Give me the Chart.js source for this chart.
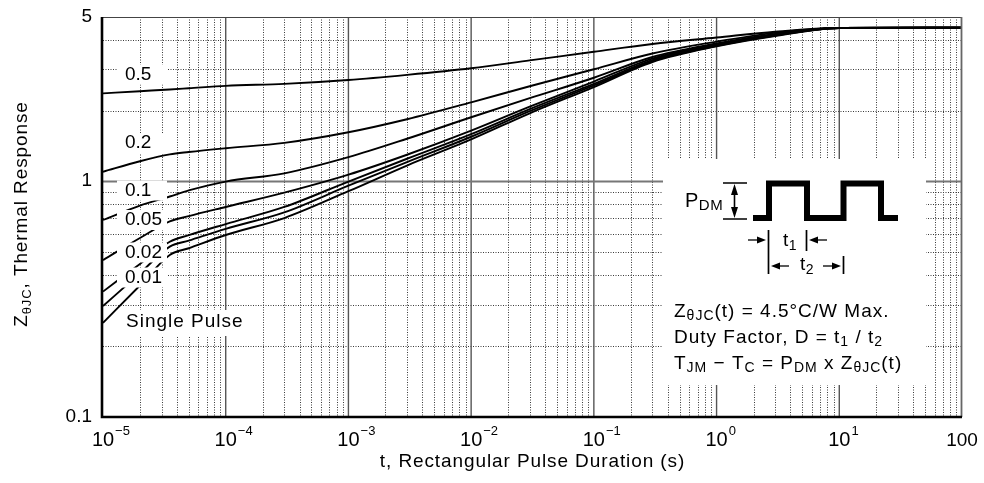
<!DOCTYPE html>
<html>
<head>
<meta charset="utf-8">
<script src="https://cdn.jsdelivr.net/npm/chart.js@4.4.1/dist/chart.umd.min.js"></script>
<style>
  html, body { margin: 0; padding: 0; background: #fff; }
  canvas { display: block; }
</style>
</head>
<body>
<canvas id="thermalChart" width="984" height="483"></canvas>
<script>
const pulseTimes = [1e-5, 2e-5, 3.5e-5, 5e-5, 1e-4, 3e-4, 1e-3, 3e-3, 1e-2, 3e-2, 1e-1, 3e-1, 1, 3, 10, 100];

// Z(t) thermal response per duty factor
const duty050 = [2.37, 2.42, 2.46, 2.49, 2.55, 2.60, 2.70, 2.84, 3.03, 3.27, 3.56, 3.84, 4.09, 4.33, 4.49, 4.50];
const duty020 = [1.10, 1.22, 1.305, 1.335, 1.385, 1.46, 1.62, 1.84, 2.17, 2.54, 3.00, 3.50, 3.93, 4.28, 4.49, 4.50];
const duty010 = [0.687, 0.791, 0.864, 0.917, 1.00, 1.084, 1.27, 1.52, 1.876, 2.26, 2.76, 3.38, 3.86, 4.24, 4.49, 4.50];
const duty005 = [0.464, 0.576, 0.677, 0.713, 0.78, 0.897, 1.07, 1.30, 1.645, 2.08, 2.66, 3.33, 3.83, 4.21, 4.49, 4.50];
const duty002 = [0.341, 0.447, 0.555, 0.592, 0.66, 0.78, 1.00, 1.25, 1.59, 2.03, 2.60, 3.28, 3.80, 4.19, 4.49, 4.50];
const duty001 = [0.296, 0.408, 0.529, 0.561, 0.63, 0.74, 0.96, 1.21, 1.55, 1.99, 2.56, 3.25, 3.77, 4.17, 4.49, 4.50];
const singlePulse = [0.251, 0.362, 0.488, 0.521, 0.593, 0.70, 0.91, 1.17, 1.51, 1.95, 2.52, 3.22, 3.75, 4.15, 4.49, 4.50];

const curveNames = ["0.5", "0.2", "0.1", "0.05", "0.02", "0.01", "Single Pulse"];
const curveValues = [duty050, duty020, duty010, duty005, duty002, duty001, singlePulse];

// axis ticks
const xDecades = [1e-5, 1e-4, 1e-3, 1e-2, 1e-1, 1, 10];
const xDecadeExp = ["\u22125", "\u22124", "\u22123", "\u22122", "\u22121", "0", "1"];
const xLastTick = 100;
const xLastLabel = "100";
const yTicks = [0.1, 1, 5];
const yTickLabels = ["0.1", "1", "5"];
const yMinorGrid = [0.2, 0.3, 0.4, 0.5, 0.6, 0.7, 0.8, 0.9, 2, 3, 4];

const FONT = '"Liberation Sans", Arial, Helvetica, sans-serif';
const INK = "#000";

function setFont(ctx, size) {
  ctx.font = size + "px " + FONT;
}

// draws pieces like [text, size, dy] one after another (for sub/superscripts)
function drawPieces(ctx, pieces, x, y, align, spacing) {
  ctx.letterSpacing = (spacing || 0) + "px";
  ctx.textAlign = "left";
  let total = 0;
  pieces.forEach(p => { setFont(ctx, p[1]); total += ctx.measureText(p[0]).width; });
  let cx = align === "center" ? x - total / 2 : x;
  pieces.forEach(p => {
    setFont(ctx, p[1]);
    ctx.fillText(p[0], cx, y + (p[2] || 0));
    cx += ctx.measureText(p[0]).width;
  });
  ctx.letterSpacing = "0px";
  return total;
}

function hArrow(ctx, tipX, y, dir) {
  const head = 9, half = 3.5, tail = 9;
  ctx.beginPath();
  ctx.moveTo(tipX, y);
  ctx.lineTo(tipX - dir * head, y - half);
  ctx.lineTo(tipX - dir * head, y + half);
  ctx.closePath();
  ctx.fill();
  ctx.beginPath();
  ctx.moveTo(tipX - dir * head, y);
  ctx.lineTo(tipX - dir * (head + tail), y);
  ctx.stroke();
}

const gridPlugin = {
  id: "gridPlugin",
  beforeDatasetsDraw(chart) {
    const { ctx, chartArea: a, scales: { x, y } } = chart;
    ctx.save();
    // dotted minor grid
    ctx.setLineDash([1, 1.5]);
    ctx.strokeStyle = "#3a3a3a";
    ctx.lineWidth = 1;
    xDecades.forEach(d => {
      for (let k = 2; k <= 9; k++) {
        const px = Math.round(x.getPixelForValue(d * k)) + 0.5;
        ctx.beginPath(); ctx.moveTo(px, a.top); ctx.lineTo(px, a.bottom); ctx.stroke();
      }
    });
    yMinorGrid.forEach(v => {
      const py = Math.round(y.getPixelForValue(v)) + 0.5;
      ctx.beginPath(); ctx.moveTo(a.left, py); ctx.lineTo(a.right, py); ctx.stroke();
    });
    ctx.setLineDash([]);
    // solid decade lines
    ctx.strokeStyle = "#555";
    ctx.lineWidth = 1.4;
    xDecades.slice(1).forEach(d => {
      const px = x.getPixelForValue(d);
      ctx.beginPath(); ctx.moveTo(px, a.top); ctx.lineTo(px, a.bottom); ctx.stroke();
    });
    ctx.strokeStyle = "#777";
    ctx.lineWidth = 2;
    const p1 = y.getPixelForValue(1);
    ctx.beginPath(); ctx.moveTo(a.left, p1); ctx.lineTo(a.right, p1); ctx.stroke();
    // blank panel for the inset notes
    ctx.fillStyle = "#fff";
    ctx.fillRect(663, 159, 263, 226);
    ctx.restore();
  },
  afterDatasetsDraw(chart) {
    const { ctx, chartArea: a, scales: { x, y } } = chart;
    ctx.save();
    ctx.fillStyle = INK;
    ctx.strokeStyle = INK;

    // curve labels on white patches
    const labelMid = [74.5, 143, 190.5, 220, 252.5, 277.5, 322];
    curveNames.forEach((name, i) => {
      ctx.fillStyle = "#fff";
      if (i < 6) ctx.fillRect(117, labelMid[i] - 10, 50, 20);
      else ctx.fillRect(119, 310, 129, 26);
      ctx.fillStyle = INK;
      setFont(ctx, 19);
      ctx.textAlign = "left";
      ctx.textBaseline = "middle";
      ctx.letterSpacing = i < 6 ? "0px" : "1px";
      ctx.fillText(name, i < 6 ? 125 : 126, labelMid[i]);
      ctx.letterSpacing = "0px";
    });

    // frame
    ctx.lineWidth = 1;
    ctx.strokeStyle = "#444";
    ctx.beginPath(); ctx.moveTo(a.left, a.top + 0.5); ctx.lineTo(a.right, a.top + 0.5); ctx.stroke();
    ctx.lineWidth = 1.8;
    ctx.strokeStyle = "#666";
    ctx.beginPath(); ctx.moveTo(a.right - 0.5, a.top); ctx.lineTo(a.right - 0.5, a.bottom); ctx.stroke();
    ctx.strokeStyle = "#000";
    ctx.lineWidth = 2.6;
    ctx.beginPath();
    ctx.moveTo(a.left - 1, a.top);
    ctx.lineTo(a.left - 1, a.bottom);
    ctx.lineTo(a.right, a.bottom);
    ctx.stroke();

    // tick labels
    ctx.fillStyle = INK;
    ctx.textBaseline = "alphabetic";
    xDecades.forEach((d, i) => {
      const px = x.getPixelForValue(d);
      setFont(ctx, 20);
      const w = ctx.measureText("10").width;
      ctx.textAlign = "left";
      ctx.fillText("10", px - w / 2, 446);
      setFont(ctx, 13);
      ctx.fillText(xDecadeExp[i], px + w / 2 + 1, 435);
    });
    setFont(ctx, 19);
    ctx.textAlign = "center";
    ctx.fillText(xLastLabel, x.getPixelForValue(xLastTick), 446);
    ctx.textAlign = "right";
    ctx.textBaseline = "middle";
    yTicks.forEach((v, i) => {
      ctx.fillText(yTickLabels[i], 92, y.getPixelForValue(v) - 0.5);
    });

    // axis titles
    ctx.textBaseline = "alphabetic";
    drawPieces(ctx, [["t, Rectangular Pulse Duration (s)", 19]], (a.left + a.right) / 2, 467, "center", 0.9);
    ctx.save();
    ctx.translate(27, 214);
    ctx.rotate(-Math.PI / 2);
    drawPieces(ctx, [["Z", 19], ["\u03b8JC", 13, 4], [", Thermal Response", 19]], 0, 0, "center", 0.9);
    ctx.restore();

    // inset: pulse train
    ctx.strokeStyle = "#000";
    ctx.fillStyle = "#000";
    ctx.lineWidth = 6;
    ctx.lineJoin = "miter";
    ctx.beginPath();
    ctx.moveTo(753, 218);
    ctx.lineTo(769, 218);
    ctx.lineTo(769, 183.5);
    ctx.lineTo(807, 183.5);
    ctx.lineTo(807, 218);
    ctx.lineTo(843.5, 218);
    ctx.lineTo(843.5, 183.5);
    ctx.lineTo(881, 183.5);
    ctx.lineTo(881, 218);
    ctx.lineTo(898, 218);
    ctx.stroke();

    // P_DM height marker
    ctx.lineWidth = 1.6;
    ctx.beginPath();
    ctx.moveTo(723, 183); ctx.lineTo(747, 183);
    ctx.moveTo(723, 219); ctx.lineTo(747, 219);
    ctx.moveTo(734.5, 192); ctx.lineTo(734.5, 210);
    ctx.stroke();
    ctx.beginPath();
    ctx.moveTo(734.5, 184); ctx.lineTo(731, 195); ctx.lineTo(738, 195); ctx.closePath();
    ctx.moveTo(734.5, 218); ctx.lineTo(731, 207); ctx.lineTo(738, 207); ctx.closePath();
    ctx.fill();
    ctx.fillStyle = INK;
    drawPieces(ctx, [["P", 20], ["DM", 15, 3]], 685, 206.5, "left", 0.5);

    // t1 / t2 markers
    ctx.fillStyle = "#000";
    ctx.lineWidth = 1.7;
    ctx.beginPath();
    ctx.moveTo(768.5, 230); ctx.lineTo(768.5, 274);
    ctx.moveTo(806.5, 230); ctx.lineTo(806.5, 251);
    ctx.moveTo(843.5, 256); ctx.lineTo(843.5, 274);
    ctx.stroke();
    ctx.lineWidth = 1.3;
    hArrow(ctx, 766, 240, 1);
    hArrow(ctx, 809, 240, -1);
    hArrow(ctx, 771, 266, -1);
    hArrow(ctx, 841, 266, 1);
    ctx.fillStyle = INK;
    drawPieces(ctx, [["t", 19], ["1", 14, 4]], 783, 246, "left", 0.5);
    drawPieces(ctx, [["t", 19], ["2", 14, 4]], 800, 270, "left", 0.5);

    // inset notes
    drawPieces(ctx, [["Z", 19], ["\u03b8JC", 14, 3], ["(t) = 4.5\u00b0C/W Max.", 19]], 674, 316.5, "left", 1);
    drawPieces(ctx, [["Duty Factor, D = t", 19], ["1", 14, 3], [" / t", 19], ["2", 14, 3]], 674, 343, "left", 1);
    drawPieces(ctx, [["T", 19], ["JM", 14, 3], [" \u2212 T", 19], ["C", 14, 3], [" = P", 19], ["DM", 14, 3],
                     [" x Z", 19], ["\u03b8JC", 14, 3], ["(t)", 19]], 674, 368.5, "left", 1);
    ctx.restore();
  }
};

const datasets = curveNames.map((name, i) => ({
  label: name,
  data: pulseTimes.map((t, j) => ({ x: t, y: curveValues[i][j] })),
  borderColor: "#000",
  borderWidth: 1.9,
  pointRadius: 0,
  fill: false,
  cubicInterpolationMode: "monotone"
}));

const ctx = document.getElementById("thermalChart").getContext("2d");
new Chart(ctx, {
  type: "line",
  data: { datasets: datasets },
  options: {
    responsive: false,
    animation: false,
    layout: { padding: { left: 103, right: 22, top: 17, bottom: 66 } },
    plugins: { legend: { display: false }, tooltip: { enabled: false } },
    scales: {
      x: { type: "logarithmic", min: 1e-5, max: 100, display: false },
      y: { type: "logarithmic", min: 0.1, max: 5, display: false }
    }
  },
  plugins: [gridPlugin]
});
</script>
</body>
</html>
